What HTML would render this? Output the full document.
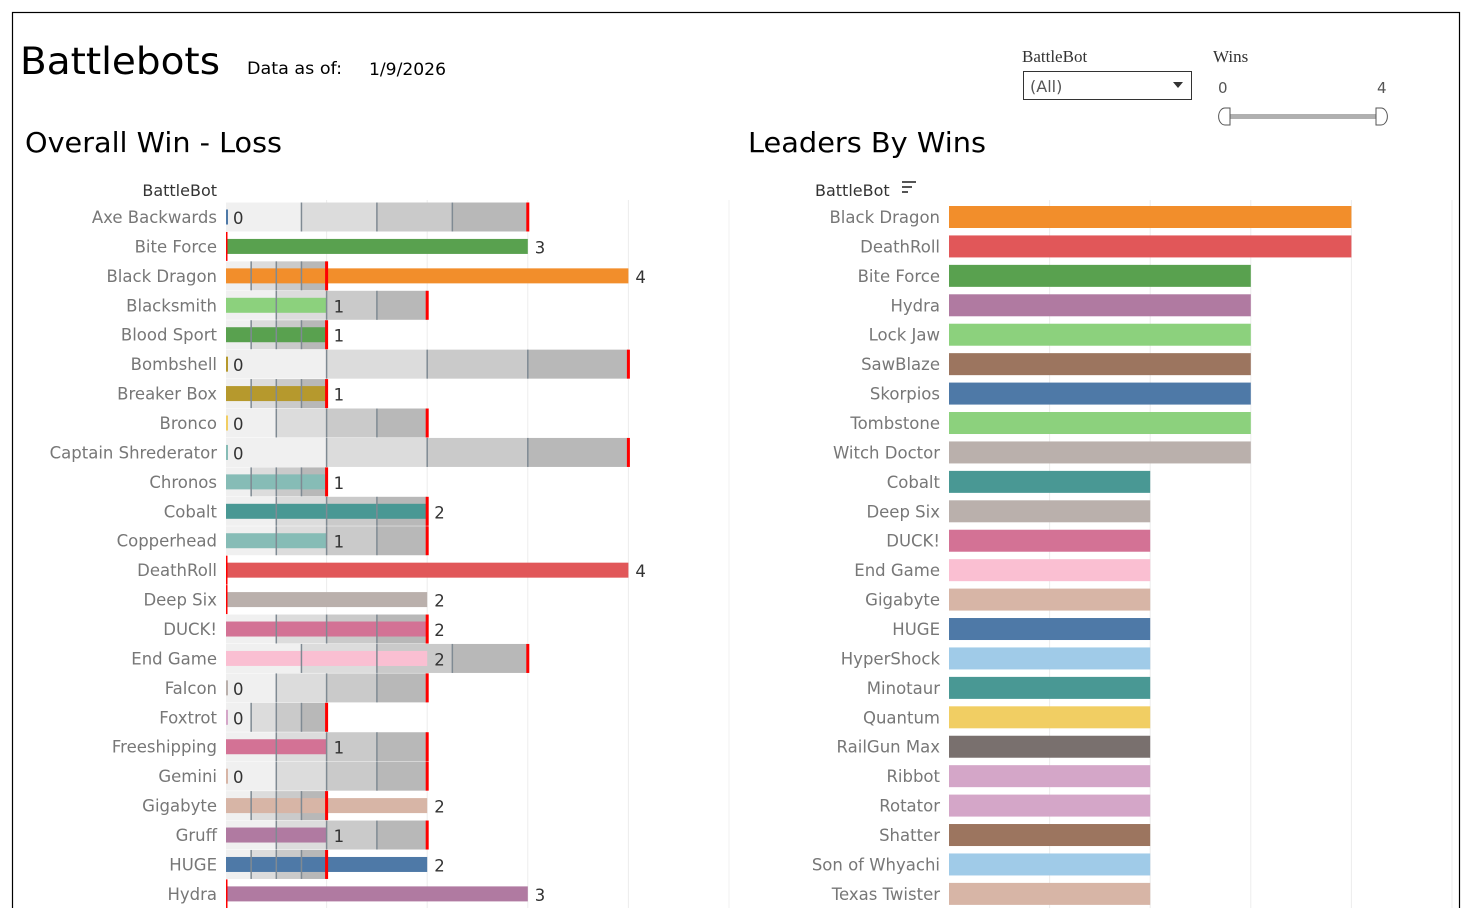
<!DOCTYPE html>
<html><head><meta charset="utf-8"><style>
body{margin:0;width:1472px;height:908px;overflow:hidden;background:#fff;font-family:"DejaVu Sans","Liberation Sans",sans-serif}
svg{position:absolute;left:0;top:0}
</style></head><body>
<svg id="s" width="1472" height="908" font-family="DejaVu Sans, Liberation Sans, sans-serif">
<rect x="12.5" y="12.5" width="1447" height="920" fill="none" stroke="#000" stroke-width="1.2"/>
<text x="20" y="74" font-size="37" fill="#000" textLength="200" lengthAdjust="spacingAndGlyphs">Battlebots</text>
<text x="247" y="74" font-size="17" fill="#000" textLength="95" lengthAdjust="spacingAndGlyphs">Data as of:</text>
<text x="369" y="75" font-size="17" fill="#000" textLength="77" lengthAdjust="spacingAndGlyphs">1/9/2026</text>
<text x="25" y="152" font-size="28" fill="#000" textLength="257" lengthAdjust="spacingAndGlyphs">Overall Win - Loss</text>
<text x="748" y="152" font-size="28" fill="#000" textLength="238" lengthAdjust="spacingAndGlyphs">Leaders By Wins</text>
<text x="217" y="196" font-size="16" fill="#333" text-anchor="end">BattleBot</text>
<text x="815" y="196" font-size="16" fill="#333">BattleBot</text>
<g><rect x="902" y="181" width="14" height="2" fill="#555"/><rect x="902" y="186" width="10" height="2" fill="#555"/><rect x="902" y="191" width="6" height="2" fill="#555"/></g>
<text x="1022" y="62" font-size="17" fill="#333" font-family="Liberation Serif,serif">BattleBot</text>
<g><rect x="1023.5" y="71.5" width="168" height="28" fill="#fff" stroke="#333"/><text x="1030" y="92" font-size="16" fill="#555">(All)</text><path d="M1173 82h10l-5 6z" fill="#333"/></g>
<text x="1213" y="62" font-size="17" fill="#333" font-family="Liberation Serif,serif">Wins</text>
<text x="1218" y="93" font-size="15" fill="#555">0</text>
<text x="1377" y="93" font-size="15" fill="#555">4</text>
<rect x="1229" y="114" width="148" height="5" fill="#b0b0b0"/>
<path d="M1230 108h-5a6 8 0 0 0 0 17h5z" fill="#fff" stroke="#555"/>
<path d="M1376 108h5a6 8 0 0 1 0 17h-5z" fill="#fff" stroke="#555"/>
<g id="L"></g><g id="R"></g>
</svg>
<script>
const leftBots=["Axe Backwards","Bite Force","Black Dragon","Blacksmith","Blood Sport","Bombshell","Breaker Box","Bronco","Captain Shrederator","Chronos","Cobalt","Copperhead","DeathRoll","Deep Six","DUCK!","End Game","Falcon","Foxtrot","Freeshipping","Gemini","Gigabyte","Gruff","HUGE","Hydra"];
const leftWins=[0,3,4,1,1,0,1,0,0,1,2,1,4,2,2,2,0,0,1,0,2,1,2,3];
const leftLosses=[3,0,1,2,1,4,1,2,4,1,2,2,0,0,2,3,2,1,2,2,1,2,1,0];
const leftColors=["#4e79a7","#59a14f","#f28e2b","#8cd17d","#59a14f","#b6992d","#b6992d","#f1ce63","#86bcb6","#86bcb6","#499894","#86bcb6","#e15759","#bab0ac","#d37295","#fabfd2","#bab0ac","#d4a6c8","#d37295","#d7b5a6","#d7b5a6","#b07aa1","#4e79a7","#b07aa1"];
const rightBots=["Black Dragon","DeathRoll","Bite Force","Hydra","Lock Jaw","SawBlaze","Skorpios","Tombstone","Witch Doctor","Cobalt","Deep Six","DUCK!","End Game","Gigabyte","HUGE","HyperShock","Minotaur","Quantum","RailGun Max","Ribbot","Rotator","Shatter","Son of Whyachi","Texas Twister"];
const rightWins=[4,4,3,3,3,3,3,3,3,2,2,2,2,2,2,2,2,2,2,2,2,2,2,2];
const rightColors=["#f28e2b","#e15759","#59a14f","#b07aa1","#8cd17d","#9c755f","#4e79a7","#8cd17d","#bab0ac","#499894","#bab0ac","#d37295","#fabfd2","#d7b5a6","#4e79a7","#a0cbe8","#499894","#f1ce63","#79706e","#d4a6c8","#d4a6c8","#9c755f","#a0cbe8","#d7b5a6"];
const ticks=[1,2,3,4];
const NS="http://www.w3.org/2000/svg";
function mk(p,t,a,txt){const e=document.createElementNS(NS,t);for(const k in a)e.setAttribute(k,a[k]);if(txt!==undefined)e.textContent=txt;p.appendChild(e);return e;}
const xL=v=>226+v*100.6, xR=v=>949+v*100.6, yRow=i=>217+i*29.43;
const L=document.getElementById('L'),R=document.getElementById('R');
ticks.forEach(t=>{
 let g=mk(L,'line',{x1:xL(t),x2:xL(t),y1:200,y2:908,stroke:'#ececec'});
 
 
 let h=mk(R,'line',{x1:xR(t),x2:xR(t),y1:200,y2:908,stroke:'#ececec'});
 
 
});
mk(L,'line',{x1:729,x2:729,y1:200,y2:908,stroke:'#f2f2f2'});
mk(R,'line',{x1:1452,x2:1452,y1:200,y2:908,stroke:'#ececec'});
const shades=["#f0f0f0","#dcdcdc","#cacaca","#b8b8b8"];
leftBots.forEach((b,i)=>{
 const y=yRow(i),w=leftWins[i],l=leftLosses[i];
 let lab=mk(L,'text',{x:217,y:y+6,'font-size':16.5,fill:'#777','text-anchor':'end'},b);
 
 
 for(let q=0;q<4;q++){
  if(l>0){let r=mk(L,'rect',{x:xL(l*q/4),y:y-14.5,width:xL(l*(q+1)/4)-xL(l*q/4),height:29,fill:shades[q]});
  
  }
 }
 if(w>0){let r=mk(L,'rect',{x:226,y:y-7.5,width:xL(w)-226,height:15,fill:leftColors[i]});
  
  }
 else{let r=mk(L,'rect',{x:226,y:y-7.5,width:2,height:15,fill:leftColors[i]});
  
  }
 if(l>0)for(let q=1;q<4;q++){let ln=mk(L,'line',{x1:xL(l*q/4),x2:xL(l*q/4),y1:y-14.5,y2:y+14.5,stroke:'#7f8a93','stroke-width':1.5});
  
  }
 let rl=mk(L,'rect',{x:xL(l)-(l>0?1.5:0),y:y-14.5,width:l>0?3:1.5,height:29,fill:'#f00'});
 
 
 let v=mk(L,'text',{x:xL(w)+7,y:y+7,'font-size':16.5,fill:'#333'},w);
 
 
});
rightBots.forEach((b,i)=>{
 const y=yRow(i);
 let lab=mk(R,'text',{x:940,y:y+6,'font-size':16.5,fill:'#777','text-anchor':'end'},b);
 
 
 let r=mk(R,'rect',{x:949,y:y-11,width:xR(rightWins[i])-949,height:22,fill:rightColors[i]});
 
 
});
</script>
</body></html>
